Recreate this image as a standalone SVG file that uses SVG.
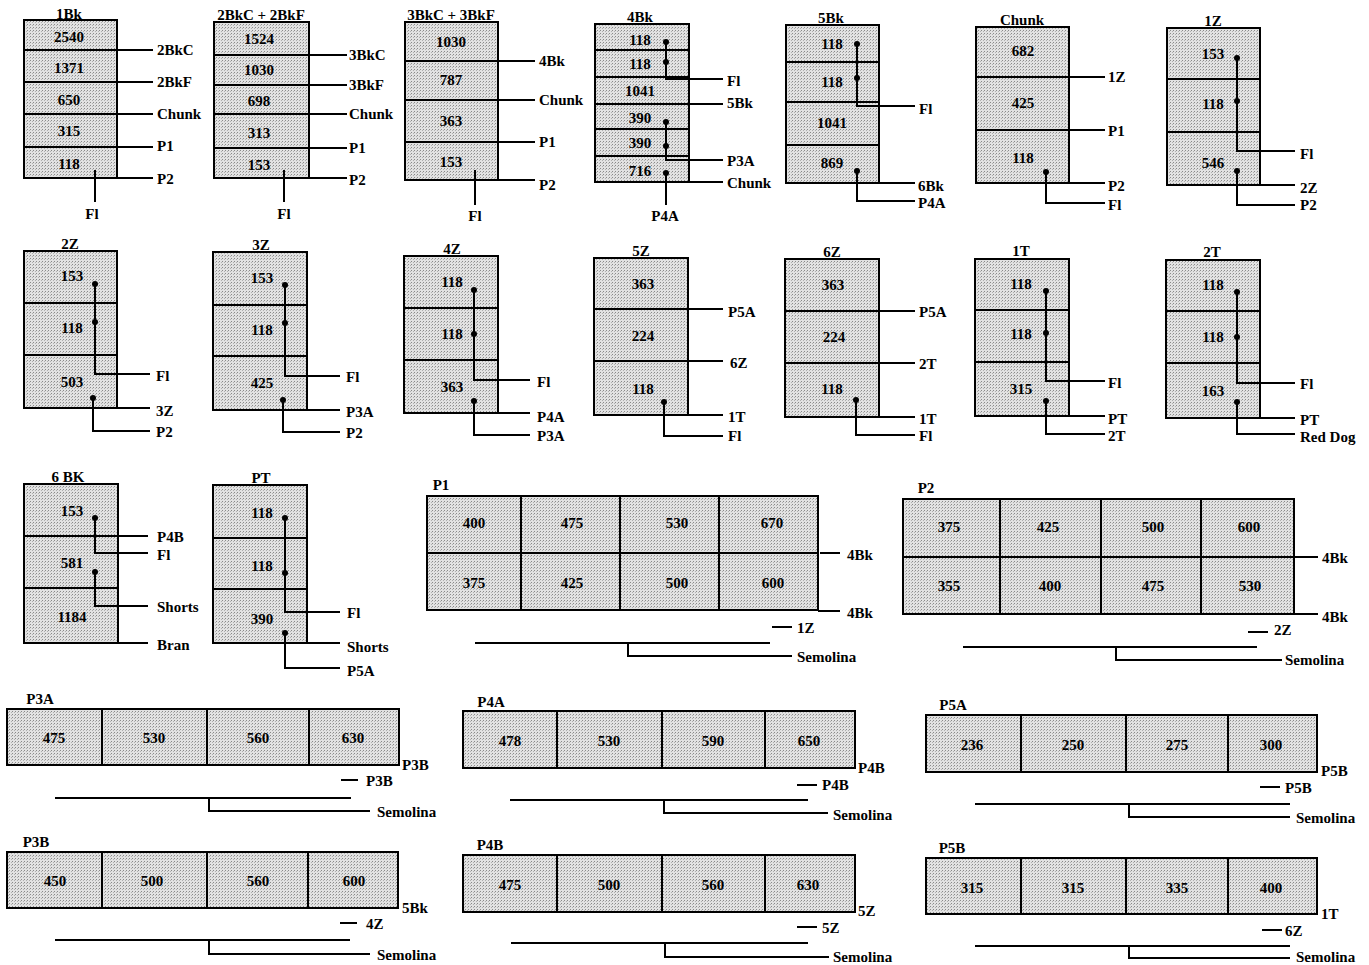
<svg xmlns="http://www.w3.org/2000/svg" width="1369" height="965" viewBox="0 0 1369 965">
<defs>
<pattern id="st" width="3" height="3" patternUnits="userSpaceOnUse">
<rect width="3" height="3" fill="#e2e2e2"/>
<rect x="0" y="0" width="1" height="1" fill="#8a8a8a"/>
<rect x="2" y="1" width="1" height="1" fill="#b0b0b0"/>
</pattern>
</defs>
<style>
.bx{fill:url(#st);stroke:#000;stroke-width:2}
.dv{stroke:#000;stroke-width:2;fill:none}
.cn{stroke:#000;stroke-width:2;fill:none}
.dot{fill:#000}
text{font-family:"Liberation Serif","Times New Roman",serif;font-weight:bold;font-size:15px;fill:#000}
.m{text-anchor:middle}
.s{text-anchor:start}
</style>
<rect width="1369" height="965" fill="#fff"/>

<!-- Row 1 -->
<g id="n1Bk">
<rect class="bx" x="24" y="20" width="93" height="158"/>
<path class="dv" d="M24 50H117M24 82H117M24 114H117M24 147H117"/>
<text class="m" x="69" y="19">1Bk</text>
<text class="m" x="69" y="42">2540</text><text class="m" x="69" y="73">1371</text><text class="m" x="69" y="105">650</text><text class="m" x="69" y="136">315</text><text class="m" x="69" y="169">118</text>
</g>
<g id="n2Bk">
<rect class="bx" x="214" y="22" width="95" height="156"/>
<path class="dv" d="M214 55H309M214 85H309M214 114H309M214 148H309"/>
<text class="m" x="261" y="20">2BkC + 2BkF</text>
<text class="m" x="259" y="44">1524</text><text class="m" x="259" y="75">1030</text><text class="m" x="259" y="106">698</text><text class="m" x="259" y="138">313</text><text class="m" x="259" y="170">153</text>
</g>
<g id="n3Bk">
<rect class="bx" x="405" y="22" width="93" height="158"/>
<path class="dv" d="M405 61H498M405 100H498M405 142H498"/>
<text class="m" x="451" y="20">3BkC + 3BkF</text>
<text class="m" x="451" y="47">1030</text><text class="m" x="451" y="85">787</text><text class="m" x="451" y="126">363</text><text class="m" x="451" y="167">153</text>
</g>
<g id="n4Bk">
<rect class="bx" x="595" y="24" width="94" height="158"/>
<path class="dv" d="M595 50H689M595 77H689M595 104H689M595 129H689M595 156H689"/>
<text class="m" x="640" y="22">4Bk</text>
<text class="m" x="640" y="45">118</text><text class="m" x="640" y="69">118</text><text class="m" x="640" y="96">1041</text><text class="m" x="640" y="123">390</text><text class="m" x="640" y="148">390</text><text class="m" x="640" y="176">716</text>
</g>
<g id="n5Bk">
<rect class="bx" x="786" y="25" width="93" height="158"/>
<path class="dv" d="M786 62H879M786 102H879M786 145H879"/>
<text class="m" x="831" y="23">5Bk</text>
<text class="m" x="832" y="49">118</text><text class="m" x="832" y="87">118</text><text class="m" x="832" y="128">1041</text><text class="m" x="832" y="168">869</text>
</g>
<g id="nChunk">
<rect class="bx" x="976" y="27" width="93" height="156"/>
<path class="dv" d="M976 77H1069M976 130H1069"/>
<text class="m" x="1022" y="25">Chunk</text>
<text class="m" x="1023" y="56">682</text><text class="m" x="1023" y="108">425</text><text class="m" x="1023" y="163">118</text>
</g>
<g id="n1Z">
<rect class="bx" x="1167" y="28" width="93" height="157"/>
<path class="dv" d="M1167 79H1260M1167 132H1260"/>
<text class="m" x="1213" y="26">1Z</text>
<text class="m" x="1213" y="59">153</text><text class="m" x="1213" y="109">118</text><text class="m" x="1213" y="168">546</text>
</g>

<!-- Row 2 -->
<g id="n2Z">
<rect class="bx" x="24" y="251" width="93" height="157"/>
<path class="dv" d="M24 303H117M24 355H117"/>
<text class="m" x="70" y="249">2Z</text>
<text class="m" x="72" y="281">153</text><text class="m" x="72" y="333">118</text><text class="m" x="72" y="387">503</text>
</g>
<g id="n3Z">
<rect class="bx" x="213" y="252" width="94" height="158"/>
<path class="dv" d="M213 305H307M213 356H307"/>
<text class="m" x="261" y="250">3Z</text>
<text class="m" x="262" y="283">153</text><text class="m" x="262" y="335">118</text><text class="m" x="262" y="388">425</text>
</g>
<g id="n4Z">
<rect class="bx" x="404" y="256" width="94" height="157"/>
<path class="dv" d="M404 308H498M404 360H498"/>
<text class="m" x="452" y="254">4Z</text>
<text class="m" x="452" y="287">118</text><text class="m" x="452" y="339">118</text><text class="m" x="452" y="392">363</text>
</g>
<g id="n5Z">
<rect class="bx" x="594" y="258" width="94" height="157"/>
<path class="dv" d="M594 309H688M594 361H688"/>
<text class="m" x="641" y="256">5Z</text>
<text class="m" x="643" y="289">363</text><text class="m" x="643" y="341">224</text><text class="m" x="643" y="394">118</text>
</g>
<g id="n6Z">
<rect class="bx" x="785" y="259" width="94" height="158"/>
<path class="dv" d="M785 311H879M785 363H879"/>
<text class="m" x="832" y="257">6Z</text>
<text class="m" x="833" y="290">363</text><text class="m" x="834" y="342">224</text><text class="m" x="832" y="394">118</text>
</g>
<g id="n1T">
<rect class="bx" x="975" y="259" width="94" height="157"/>
<path class="dv" d="M975 310H1069M975 362H1069"/>
<text class="m" x="1021" y="256">1T</text>
<text class="m" x="1021" y="289">118</text><text class="m" x="1021" y="339">118</text><text class="m" x="1021" y="394">315</text>
</g>
<g id="n2T">
<rect class="bx" x="1166" y="260" width="94" height="158"/>
<path class="dv" d="M1166 311H1260M1166 363H1260"/>
<text class="m" x="1212" y="257">2T</text>
<text class="m" x="1213" y="290">118</text><text class="m" x="1213" y="342">118</text><text class="m" x="1213" y="396">163</text>
</g>

<!-- Row 3 -->
<g id="n6BK">
<rect class="bx" x="24" y="484" width="94" height="159"/>
<path class="dv" d="M24 536H118M24 588H118"/>
<text class="m" x="68" y="482">6 BK</text>
<text class="m" x="72" y="516">153</text><text class="m" x="72" y="568">581</text><text class="m" x="72" y="622">1184</text>
</g>
<g id="nPT">
<rect class="bx" x="213" y="485" width="94" height="158"/>
<path class="dv" d="M213 538H307M213 589H307"/>
<text class="m" x="261" y="483">PT</text>
<text class="m" x="262" y="518">118</text><text class="m" x="262" y="571">118</text><text class="m" x="262" y="624">390</text>
</g>
<g id="nP1">
<rect class="bx" x="427" y="496" width="391" height="114"/>
<path class="dv" d="M427 553H818M521 496V610M620 496V610M719 496V610"/>
<text class="m" x="441" y="490">P1</text>
<text class="m" x="474" y="528">400</text><text class="m" x="572" y="528">475</text><text class="m" x="677" y="528">530</text><text class="m" x="772" y="528">670</text>
<text class="m" x="474" y="588">375</text><text class="m" x="572" y="588">425</text><text class="m" x="677" y="588">500</text><text class="m" x="773" y="588">600</text>
</g>
<g id="nP2">
<rect class="bx" x="903" y="499" width="391" height="115"/>
<path class="dv" d="M903 557H1294M1000 499V614M1101 499V614M1201 499V614"/>
<text class="m" x="926" y="493">P2</text>
<text class="m" x="949" y="532">375</text><text class="m" x="1048" y="532">425</text><text class="m" x="1153" y="532">500</text><text class="m" x="1249" y="532">600</text>
<text class="m" x="949" y="591">355</text><text class="m" x="1050" y="591">400</text><text class="m" x="1153" y="591">475</text><text class="m" x="1250" y="591">530</text>
</g>

<!-- Row 4/5 -->
<g id="nP3A">
<rect class="bx" x="7" y="709" width="392" height="56"/>
<path class="dv" d="M102 709V765M207 709V765M309 709V765"/>
<text class="m" x="40" y="704">P3A</text>
<text class="m" x="54" y="743">475</text><text class="m" x="154" y="743">530</text><text class="m" x="258" y="743">560</text><text class="m" x="353" y="743">630</text>
</g>
<g id="nP3B">
<rect class="bx" x="7" y="852" width="391" height="56"/>
<path class="dv" d="M102 852V908M207 852V908M308 852V908"/>
<text class="m" x="36" y="847">P3B</text>
<text class="m" x="55" y="886">450</text><text class="m" x="152" y="886">500</text><text class="m" x="258" y="886">560</text><text class="m" x="354" y="886">600</text>
</g>
<g id="nP4A">
<rect class="bx" x="463" y="711" width="392" height="57"/>
<path class="dv" d="M557 711V768M662 711V768M765 711V768"/>
<text class="m" x="491" y="707">P4A</text>
<text class="m" x="510" y="746">478</text><text class="m" x="609" y="746">530</text><text class="m" x="713" y="746">590</text><text class="m" x="809" y="746">650</text>
</g>
<g id="nP4B">
<rect class="bx" x="463" y="855" width="392" height="57"/>
<path class="dv" d="M557 855V912M662 855V912M765 855V912"/>
<text class="m" x="490" y="850">P4B</text>
<text class="m" x="510" y="890">475</text><text class="m" x="609" y="890">500</text><text class="m" x="713" y="890">560</text><text class="m" x="808" y="890">630</text>
</g>
<g id="nP5A">
<rect class="bx" x="926" y="715" width="391" height="57"/>
<path class="dv" d="M1021 715V772M1126 715V772M1228 715V772"/>
<text class="m" x="953" y="710">P5A</text>
<text class="m" x="972" y="750">236</text><text class="m" x="1073" y="750">250</text><text class="m" x="1177" y="750">275</text><text class="m" x="1271" y="750">300</text>
</g>
<g id="nP5B">
<rect class="bx" x="926" y="858" width="391" height="56"/>
<path class="dv" d="M1021 858V914M1126 858V914M1228 858V914"/>
<text class="m" x="952" y="853">P5B</text>
<text class="m" x="972" y="893">315</text><text class="m" x="1073" y="893">315</text><text class="m" x="1177" y="893">335</text><text class="m" x="1271" y="893">400</text>
</g>

<g id="connectors">
<path class="cn" d="M117 50H153M117 82H153M117 114H153M117 147H153M117 178H153M95 170V202"/>
<path class="cn" d="M309 55H347M309 85H347M309 114H347M309 148H347M309 178H347M284 170V202"/>
<path class="cn" d="M498 61H535M498 100H535M498 142H535M498 180H535M475 170V205"/>
<path class="cn" d="M666 42V79H723M689 104H723M666 122V160H723M689 182H723M666 173V205"/>
<circle class="dot" cx="666" cy="42" r="3"/><circle class="dot" cx="666" cy="62" r="3"/><circle class="dot" cx="666" cy="122" r="3"/><circle class="dot" cx="666" cy="146" r="3"/><circle class="dot" cx="666" cy="173" r="3"/>
<path class="cn" d="M857 44V106H915M879 183H915M857 171V201H915"/>
<circle class="dot" cx="857" cy="44" r="3"/><circle class="dot" cx="857" cy="78" r="3"/><circle class="dot" cx="857" cy="171" r="3"/>
<path class="cn" d="M1069 77H1105M1069 130H1105M1069 183H1105M1046 172V203H1105"/>
<circle class="dot" cx="1046" cy="172" r="3"/>
<path class="cn" d="M1237 58V151H1295M1260 185H1295M1237 171V205H1295"/>
<circle class="dot" cx="1237" cy="58" r="3"/><circle class="dot" cx="1237" cy="101" r="3"/><circle class="dot" cx="1237" cy="171" r="3"/>
<path class="cn" d="M95 284V374H150M117 408H150M93 398V431H150"/>
<circle class="dot" cx="95" cy="284" r="3"/><circle class="dot" cx="95" cy="322" r="3"/><circle class="dot" cx="93" cy="398" r="3"/>
<path class="cn" d="M285 285V376H340M307 410H340M283 400V432H340"/>
<circle class="dot" cx="285" cy="285" r="3"/><circle class="dot" cx="285" cy="323" r="3"/><circle class="dot" cx="283" cy="400" r="3"/>
<path class="cn" d="M474 290V380H530M498 413H530M474 401V435H530"/>
<circle class="dot" cx="474" cy="290" r="3"/><circle class="dot" cx="474" cy="334" r="3"/><circle class="dot" cx="474" cy="401" r="3"/>
<path class="cn" d="M688 309H723M688 361H723M688 415H723M664 402V436H723"/>
<circle class="dot" cx="664" cy="402" r="3"/>
<path class="cn" d="M879 311H915M879 363H915M879 417H915M856 400V435H915"/>
<circle class="dot" cx="856" cy="400" r="3"/>
<path class="cn" d="M1046 291V381H1105M1069 416H1105M1046 401V434H1105"/>
<circle class="dot" cx="1046" cy="291" r="3"/><circle class="dot" cx="1046" cy="333" r="3"/><circle class="dot" cx="1046" cy="401" r="3"/>
<path class="cn" d="M1237 292V383H1295M1260 418H1295M1237 402V434H1295"/>
<circle class="dot" cx="1237" cy="292" r="3"/><circle class="dot" cx="1237" cy="337" r="3"/><circle class="dot" cx="1237" cy="402" r="3"/>
<path class="cn" d="M118 536H148M95 518V553H148M95 572V606H148M118 643H148"/>
<circle class="dot" cx="95" cy="518" r="3"/><circle class="dot" cx="95" cy="572" r="3"/>
<path class="cn" d="M285 518V612H340M307 643H340M285 633V668H340"/>
<circle class="dot" cx="285" cy="518" r="3"/><circle class="dot" cx="285" cy="573" r="3"/><circle class="dot" cx="285" cy="633" r="3"/>
<path class="cn" d="M820 553H840M818 611H840M772 627H792M475 643H770M628 643V656H792"/>
<path class="cn" d="M1295 557H1318M1294 614H1318M1248 632H1268M963 647H1257M1116 647V660H1282"/>
<path class="cn" d="M341 780H358M55 798H351M209 798V811H370"/>
<path class="cn" d="M340 923H357M55 940H350M209 940V954H370"/>
<path class="cn" d="M797 785H817M510 800H808M664 800V813H828"/>
<path class="cn" d="M797 927H817M511 943H808M665 943V957H829"/>
<path class="cn" d="M1260 787H1280M975 804H1290M1129 804V817H1290"/>
<path class="cn" d="M1262 930H1282M975 946H1290M1129 946V958H1290"/>
</g>

<g id="labels">
<text class="s" x="157" y="55">2BkC</text><text class="s" x="157" y="87">2BkF</text><text class="s" x="157" y="119">Chunk</text><text class="s" x="157" y="151">P1</text><text class="s" x="157" y="184">P2</text><text class="m" x="92" y="219">Fl</text>
<text class="s" x="349" y="60">3BkC</text><text class="s" x="349" y="90">3BkF</text><text class="s" x="349" y="119">Chunk</text><text class="s" x="349" y="153">P1</text><text class="s" x="349" y="185">P2</text><text class="m" x="284" y="219">Fl</text>
<text class="s" x="539" y="66">4Bk</text><text class="s" x="539" y="105">Chunk</text><text class="s" x="539" y="147">P1</text><text class="s" x="539" y="190">P2</text><text class="m" x="475" y="221">Fl</text>
<text class="s" x="727" y="86">Fl</text><text class="s" x="727" y="108">5Bk</text><text class="s" x="727" y="166">P3A</text><text class="s" x="727" y="188">Chunk</text><text class="m" x="665" y="221">P4A</text>
<text class="s" x="919" y="114">Fl</text><text class="s" x="918" y="191">6Bk</text><text class="s" x="918" y="208">P4A</text>
<text class="s" x="1108" y="82">1Z</text><text class="s" x="1108" y="136">P1</text><text class="s" x="1108" y="191">P2</text><text class="s" x="1108" y="210">Fl</text>
<text class="s" x="1300" y="159">Fl</text><text class="s" x="1300" y="193">2Z</text><text class="s" x="1300" y="210">P2</text>
<text class="s" x="156" y="381">Fl</text><text class="s" x="156" y="416">3Z</text><text class="s" x="156" y="437">P2</text>
<text class="s" x="346" y="382">Fl</text><text class="s" x="346" y="417">P3A</text><text class="s" x="346" y="438">P2</text>
<text class="s" x="537" y="387">Fl</text><text class="s" x="537" y="422">P4A</text><text class="s" x="537" y="441">P3A</text>
<text class="s" x="728" y="317">P5A</text><text class="s" x="730" y="368">6Z</text><text class="s" x="728" y="422">1T</text><text class="s" x="728" y="441">Fl</text>
<text class="s" x="919" y="317">P5A</text><text class="s" x="919" y="369">2T</text><text class="s" x="919" y="424">1T</text><text class="s" x="919" y="441">Fl</text>
<text class="s" x="1108" y="388">Fl</text><text class="s" x="1108" y="424">PT</text><text class="s" x="1108" y="441">2T</text>
<text class="s" x="1300" y="389">Fl</text><text class="s" x="1300" y="425">PT</text><text class="s" x="1300" y="442">Red Dog</text>
<text class="s" x="157" y="542">P4B</text><text class="s" x="157" y="560">Fl</text><text class="s" x="157" y="612">Shorts</text><text class="s" x="157" y="650">Bran</text>
<text class="s" x="347" y="618">Fl</text><text class="s" x="347" y="652">Shorts</text><text class="s" x="347" y="676">P5A</text>
<text class="s" x="847" y="560">4Bk</text><text class="s" x="847" y="618">4Bk</text><text class="s" x="797" y="633">1Z</text><text class="s" x="797" y="662">Semolina</text>
<text class="s" x="1322" y="563">4Bk</text><text class="s" x="1322" y="622">4Bk</text><text class="s" x="1274" y="635">2Z</text><text class="s" x="1285" y="665">Semolina</text>
<text class="s" x="402" y="770">P3B</text><text class="s" x="366" y="786">P3B</text><text class="s" x="377" y="817">Semolina</text>
<text class="s" x="402" y="913">5Bk</text><text class="s" x="366" y="929">4Z</text><text class="s" x="377" y="960">Semolina</text>
<text class="s" x="858" y="773">P4B</text><text class="s" x="822" y="790">P4B</text><text class="s" x="833" y="820">Semolina</text>
<text class="s" x="858" y="916">5Z</text><text class="s" x="822" y="933">5Z</text><text class="s" x="833" y="962">Semolina</text>
<text class="s" x="1321" y="776">P5B</text><text class="s" x="1285" y="793">P5B</text><text class="s" x="1296" y="823">Semolina</text>
<text class="s" x="1321" y="919">1T</text><text class="s" x="1285" y="936">6Z</text><text class="s" x="1296" y="962">Semolina</text>
</g>
</svg>
